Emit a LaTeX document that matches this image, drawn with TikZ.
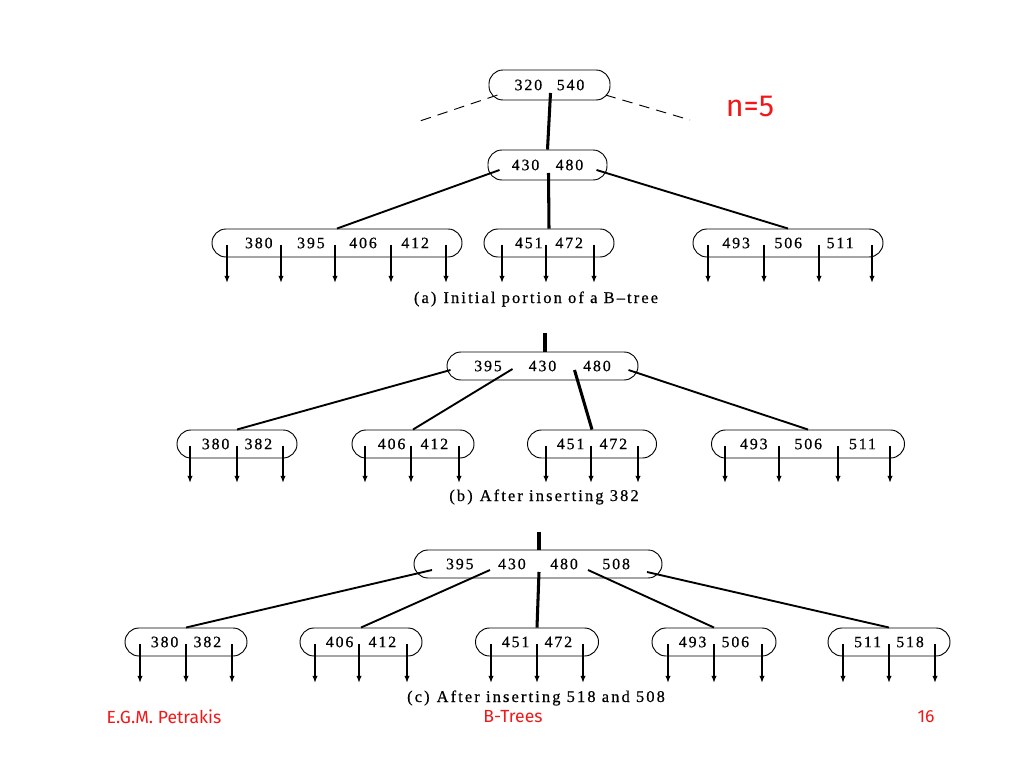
\documentclass[tikz,border=0pt]{standalone}
\usepackage{fontspec}
\setmainfont{Liberation Serif}
\newfontfamily\keyfont[LetterSpace=12,FakeBold=0.6]{Liberation Serif}
\newfontfamily\capfont[LetterSpace=13,FakeBold=0.6]{Liberation Serif}
\newfontfamily\notefont{Fira Sans}
\usetikzlibrary{arrows.meta,calc}
\definecolor{slidered}{HTML}{F01818}

\begin{document}
\begin{tikzpicture}[
  x=0.03cm, y=-0.03cm,
  key/.style={draw, line width=0.8pt, rounded corners=0.42cm, minimum height=0.84cm, inner sep=0pt, font=\keyfont\fontsize{13.5}{15}\selectfont},
  edge/.style={line width=1.6pt},
  spine/.style={line width=2.6pt},
  ptr/.style={-{Latex[length=6pt,width=4.5pt]}, line width=1.3pt},
  link/.style={line width=0.8pt, dash pattern=on 9pt off 6pt},
  caption/.style={font=\capfont\fontsize{14}{16}\selectfont},
  note/.style={text=slidered, font=\notefont}
]
\useasboundingbox (0,0) rectangle (1024,768);

% (a) initial portion
\node[key, minimum width=3.63cm, minimum height=0.9cm] (ra) at (549.5,85) {320\hspace{12.5pt}540};
\node[key, minimum width=3.57cm, minimum height=0.9cm] (ma) at (547.5,165) {430\hspace{14pt}480};
\node[key, minimum width=7.5cm] (a1) at (337,243) {380\hspace{21pt}395\hspace{21pt}406\hspace{21pt}412};
\node[key, minimum width=3.9cm] (a2) at (549,243) {451\hspace{11pt}472};
\node[key, minimum width=5.7cm] (a3) at (788,243) {493\hspace{21pt}506\hspace{21pt}511};

\coordinate (ra-l) at (417,122);
\coordinate (ra-r) at (690,120);
\draw[link] ([shift={(-52,10)}]ra.center) -- (ra-l);
\draw[link] ([shift={(56,10)}]ra.center) -- (ra-r);
\draw[spine] ([shift={(1,8)}]ra.center) -- (ma.north);
\draw[edge] ([shift={(-48,5)}]ma.center) -- (a1.north);
\draw[spine] ([shift={(1,8)}]ma.center) -- (a2.north);
\draw[edge] ([shift={(49,5)}]ma.center) -- (a3.north);

\foreach \dx in {-110,-56,-2,54,109} \draw[ptr] ([shift={(\dx,2)}]a1.center) -- ++(0,38);
\foreach \dx in {-47,-3,45} \draw[ptr] ([shift={(\dx,2)}]a2.center) -- ++(0,38);
\foreach \dx in {-80,-24,31,84} \draw[ptr] ([shift={(\dx,2)}]a3.center) -- ++(0,38);

\node[caption] (capa) at (536,299) {(a)\hspace{6pt}Initial portion of a B–tree};
\node[note, font=\notefont\fontsize{26}{30}\selectfont] (nval) at (750,106) {n=5};

% (b) after inserting 382
\node[key, minimum width=5.73cm] (b0) at (542.5,366) {395\hspace{23pt}430\hspace{23pt}480};
\node[key, minimum width=3.6cm] (b1) at (237,444) {380\hspace{13pt}382};
\node[key, minimum width=3.66cm] (b2) at (413,444) {406\hspace{13pt}412};
\node[key, minimum width=3.87cm] (b3) at (592,444) {451\hspace{13pt}472};
\node[key, minimum width=5.79cm] (b4) at (808,444) {493\hspace{23pt}506\hspace{23pt}511};

\coordinate (b-top) at (545,333);
\draw[spine] (b-top) -- (b-top |- b0.north);
\draw[edge] ([shift={(-92,4)}]b0.center) -- (b1.north);
\draw[edge] ([shift={(-30,3)}]b0.center) -- (b2.north);
\draw[spine] ([shift={(32,4)}]b0.center) -- (b3.north);
\draw[edge] ([shift={(86,4)}]b0.center) -- (b4.north);

\foreach \dx in {-47,0,46} \draw[ptr] ([shift={(\dx,2)}]b1.center) -- ++(0,37);
\foreach \dx in {-48,-2,46} \draw[ptr] ([shift={(\dx,2)}]b2.center) -- ++(0,37);
\foreach \dx in {-46,-1,46} \draw[ptr] ([shift={(\dx,2)}]b3.center) -- ++(0,37);
\foreach \dx in {-83,-29,30,82} \draw[ptr] ([shift={(\dx,2)}]b4.center) -- ++(0,37);

\node[caption] (capb) at (544,497) {(b)\hspace{6pt}After inserting 382};

% (c) after inserting 518 and 508
\node[key, minimum width=7.44cm] (c0) at (538,564) {395\hspace{21pt}430\hspace{21pt}480\hspace{21pt}508};
\node[key, minimum width=3.66cm] (c1) at (186,642) {380\hspace{13pt}382};
\node[key, minimum width=3.66cm] (c2) at (361,642) {406\hspace{13pt}412};
\node[key, minimum width=3.69cm] (c3) at (537,642) {451\hspace{13pt}472};
\node[key, minimum width=3.72cm] (c4) at (714,642) {493\hspace{13pt}506};
\node[key, minimum width=3.66cm] (c5) at (889,642) {511\hspace{13pt}518};

\coordinate (c-top) at (539,532);
\draw[spine] (c-top) -- (c-top |- c0.north);
\draw[edge] ([shift={(-106,6)}]c0.center) -- (c1.north);
\draw[edge] ([shift={(-48,6)}]c0.center) -- (c2.north);
\draw[spine] ([shift={(1,8)}]c0.center) -- (c3.north);
\draw[edge] ([shift={(50,6)}]c0.center) -- (c4.north);
\draw[edge] ([shift={(109,8)}]c0.center) -- (c5.north);

\foreach \dx in {-46,0,46} \draw[ptr] ([shift={(\dx,2)}]c1.center) -- ++(0,39);
\foreach \dx in {-46,-2,46} \draw[ptr] ([shift={(\dx,2)}]c2.center) -- ++(0,39);
\foreach \dx in {-46,0,46} \draw[ptr] ([shift={(\dx,2)}]c3.center) -- ++(0,39);
\foreach \dx in {-46,0,48} \draw[ptr] ([shift={(\dx,2)}]c4.center) -- ++(0,39);
\foreach \dx in {-46,0,46} \draw[ptr] ([shift={(\dx,2)}]c5.center) -- ++(0,39);

\node[caption] (capc) at (536,698) {(c)\hspace{6pt}After inserting 518 and 508};

% footer
\node[note, font=\notefont\fontsize{15}{18}\selectfont] (fauthor) at (164,717) {E.G.M. Petrakis};
\node[note, font=\notefont\fontsize{15}{18}\selectfont] (ftitle) at (513,717) {B-Trees};
\node[note, font=\notefont\fontsize{15}{18}\selectfont] (fpage) at (926,717) {16};
\end{tikzpicture}
\end{document}
